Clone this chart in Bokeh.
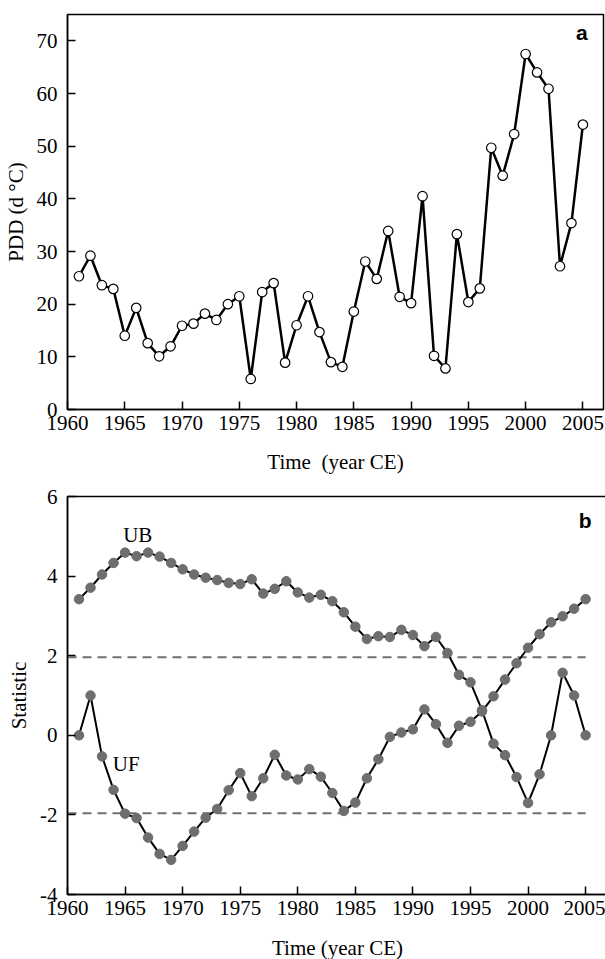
from bokeh.plotting import figure
from bokeh.layouts import column
from bokeh.models import Range1d, FixedTicker, Label
from bokeh.embed import file_html
from bokeh.resources import INLINE

years = list(range(1961, 2006))
pdd = [25.3, 29.2, 23.6, 22.9, 14.0, 19.3, 12.6, 10.1, 12.0, 15.9,
       16.3, 18.2, 17.0, 20.0, 21.5, 5.8, 22.3, 24.0, 8.9, 16.0,
       21.5, 14.7, 9.0, 8.1, 18.6, 28.1, 24.8, 33.9, 21.4, 20.2,
       40.5, 10.2, 7.8, 33.3, 20.4, 23.0, 49.7, 44.4, 52.3, 67.5,
       64.0, 60.9, 27.2, 35.4, 54.1]
uf = [0.0, 1.0, -0.53, -1.37, -1.97, -2.08, -2.57, -2.98, -3.13, -2.78,
      -2.42, -2.07, -1.85, -1.38, -0.95, -1.53, -1.08, -0.49, -1.01, -1.11,
      -0.85, -1.04, -1.45, -1.90, -1.69, -1.08, -0.60, -0.04, 0.07, 0.15,
      0.65, 0.28, -0.19, 0.24, 0.34, 0.60, 0.98, 1.40, 1.81, 2.20,
      2.54, 2.84, 2.99, 3.18, 3.42]
ub = [3.42, 3.71, 4.04, 4.33, 4.59, 4.50, 4.59, 4.49, 4.33, 4.17,
      4.04, 3.96, 3.90, 3.83, 3.80, 3.92, 3.56, 3.68, 3.87, 3.59,
      3.46, 3.53, 3.37, 3.09, 2.73, 2.42, 2.49, 2.47, 2.65, 2.52,
      2.24, 2.47, 2.07, 1.52, 1.33, 0.63, -0.21, -0.50, -1.05, -1.70,
      -0.98, 0.0, 1.57, 1.0, 0.0]
x_ticks = [1960, 1965, 1970, 1975, 1980, 1985, 1990, 1995, 2000, 2005]
pdd_ticks = [0, 10, 20, 30, 40, 50, 60, 70]
stat_ticks = [-4, -2, 0, 2, 4, 6]
stat_tick_labels = ["-4", "-2", "0", "2", "4", "6"]
crit = 1.96

SERIF = "Liberation Serif"
FS = "21px"


def style(p, xlabel, ylabel):
    p.outline_line_color = "black"
    p.outline_line_width = 1.5
    p.xgrid.visible = False
    p.ygrid.visible = False
    for ax in (p.xaxis[0], p.yaxis[0]):
        ax.major_label_text_font = SERIF
        ax.major_label_text_font_size = FS
        ax.major_label_text_color = "black"
        ax.axis_label_text_font = SERIF
        ax.axis_label_text_font_size = FS
        ax.axis_label_text_font_style = "normal"
        ax.axis_label_text_color = "black"
        ax.axis_line_width = 1.5
        ax.axis_line_color = "black"
        ax.major_tick_in = 8
        ax.major_tick_out = 0
        ax.major_tick_line_width = 1.5
        ax.minor_tick_line_color = None
    p.xaxis[0].axis_label = xlabel
    p.yaxis[0].axis_label = ylabel
    p.xaxis[0].major_label_standoff = 6
    p.xaxis[0].axis_label_standoff = 18
    p.yaxis[0].major_label_standoff = 10
    p.yaxis[0].axis_label_standoff = 6


# ---- panel a ----
p1 = figure(frame_width=536, frame_height=395, output_backend="svg",
            toolbar_location=None, x_range=Range1d(1960, 2006.8),
            y_range=Range1d(0, 75), min_border_left=67, min_border_right=2,
            min_border_top=14, min_border_bottom=69)
style(p1, "Time\u00a0\u00a0(year CE)", "PDD (d \u00b0C)")
p1.xaxis[0].axis_label_standoff = 17
p1.xaxis[0].ticker = FixedTicker(ticks=x_ticks)
p1.yaxis[0].ticker = FixedTicker(ticks=pdd_ticks)
p1.line(years, pdd, line_color="black", line_width=2.5)
p1.scatter(years, pdd, size=9.5, fill_color="white", line_color="black",
           line_width=1.2)
p1.add_layout(Label(x=2004.9, y=71.6, text="a", text_font="Liberation Sans",
                    text_font_style="bold", text_font_size="21px",
                    text_color="black",
                    text_align="center", text_baseline="middle"))

# ---- panel b ----
p2 = figure(frame_width=540, frame_height=398, output_backend="svg",
            toolbar_location=None, x_range=Range1d(1960, 2006.9),
            y_range=Range1d(-4, 6), min_border_left=64, min_border_right=1,
            min_border_top=18, min_border_bottom=65)
style(p2, "Time (year CE)", "Statistic")
p2.xaxis[0].ticker = FixedTicker(ticks=x_ticks)
p2.yaxis[0].ticker = FixedTicker(ticks=stat_ticks)
p2.yaxis[0].major_label_overrides = dict(zip(stat_ticks, stat_tick_labels))
for yv in (crit, -crit):
    p2.line([1960, 2005], [yv, yv], line_color="#707070", line_width=2,
            line_dash="9 6")
p2.line(years, ub, line_color="black", line_width=2)
p2.line(years, uf, line_color="black", line_width=2)
p2.scatter(years, ub, size=9.5, fill_color="#6e6e6e", line_color="#6e6e6e")
p2.scatter(years, uf, size=9.5, fill_color="#6e6e6e", line_color="#6e6e6e")
p2.add_layout(Label(x=1966.1, y=5.03, text="UB", text_font=SERIF,
                    text_font_size=FS, text_color="black", text_align="center",
                    text_baseline="middle"))
p2.add_layout(Label(x=1965.1, y=-0.73, text="UF", text_font=SERIF,
                    text_font_size=FS, text_color="black", text_align="center",
                    text_baseline="middle"))
p2.add_layout(Label(x=2004.95, y=5.4, text="b", text_font="Liberation Sans",
                    text_font_style="bold", text_font_size="21px",
                    text_color="black",
                    text_align="center", text_baseline="middle"))

layout = column(p1, p2, spacing=0)
open("out.html", "w").write(file_html(layout, INLINE))
